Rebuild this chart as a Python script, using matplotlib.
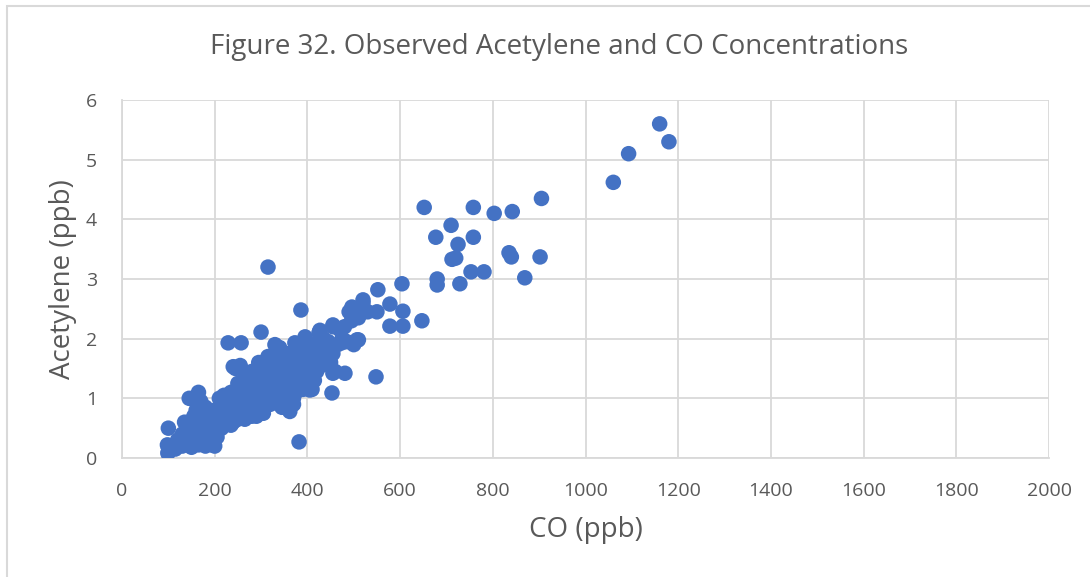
import matplotlib.pyplot as plt
from matplotlib.patches import Rectangle

# CO (ppb) vs acetylene (ppb)
co_low = [100, 100, 115, 130, 140, 150, 165, 180, 195, 200, 130, 135, 150, 160,
          170, 175, 185, 190, 200, 210, 215, 145, 165, 170, 180, 160, 100, 205,
          220, 225, 200, 210, 215, 225, 220, 120, 155, 185, 195, 235, 175, 190,
          205, 165, 180, 210, 150, 195]
ac_low = [0.10, 0.18, 0.15, 0.20, 0.25, 0.18, 0.22, 0.20, 0.22, 0.20, 0.40, 0.60,
          0.50, 0.45, 0.60, 0.35, 0.50, 0.70, 0.55, 0.75, 0.50, 1.00, 1.10, 0.95,
          0.85, 0.80, 0.50, 0.35, 0.60, 0.80, 0.80, 1.00, 0.65, 0.90, 1.05, 0.30,
          0.70, 0.65, 0.40, 0.55, 0.25, 0.30, 0.45, 0.35, 0.45, 0.60, 0.35, 0.60]

co_mid = [230, 230, 235, 240, 240, 245, 250, 250, 255, 255, 260, 262, 265, 270,
          270, 275, 280, 280, 285, 290, 290, 295, 295, 300, 300, 305, 305, 310,
          310, 315, 315, 320, 320, 325, 325, 330, 330, 335, 335, 340, 340, 345,
          345, 350, 350, 355, 355, 360, 360, 365, 365, 370, 370, 375, 375, 380,
          380, 385, 390, 390, 395, 395, 400, 400, 405, 410, 410, 415, 420, 425,
          425, 430, 435, 440, 445, 450, 455, 460, 465, 470, 475, 480, 485, 490,
          495, 500, 505, 510, 510, 520, 530, 250, 265, 285, 300, 270, 310, 340,
          320, 350, 290, 330, 360, 380, 345, 370, 260, 280, 240, 245, 275, 295,
          315, 335, 355, 375, 395, 415, 435, 455, 265, 305, 325, 345, 365, 385,
          405, 425, 445, 285, 300, 320, 340, 360, 380, 400, 420]
ac_mid = [0.70, 0.95, 1.10, 0.60, 0.85, 1.50, 1.00, 1.25, 0.75, 1.55, 0.90, 1.15,
          0.65, 1.05, 1.30, 0.80, 1.45, 0.95, 1.20, 0.70, 1.05, 1.35, 1.60, 0.85,
          1.15, 1.45, 0.75, 1.00, 1.30, 1.55, 1.70, 0.90, 1.20, 1.40, 1.05, 1.75,
          0.95, 1.25, 1.50, 1.10, 1.85, 1.35, 0.95, 1.60, 1.20, 1.45, 1.05, 1.30,
          1.75, 1.15, 1.55, 1.40, 1.00, 1.65, 1.25, 1.50, 1.85, 1.30, 1.15, 1.60,
          1.45, 2.00, 1.25, 1.75, 1.55, 1.90, 1.15, 1.65, 1.45, 2.10, 1.80, 1.55,
          2.00, 1.70, 1.95, 1.60, 2.20, 1.45, 1.90, 2.15, 2.00, 2.20, 1.95, 2.45,
          2.30, 1.90, 2.40, 2.35, 1.98, 2.60, 2.45, 0.65, 0.85, 0.80, 0.95, 1.20,
          1.10, 1.30, 1.35, 1.40, 1.25, 1.55, 1.20, 1.35, 0.85, 0.90, 1.00, 0.70,
          0.75, 1.05, 1.15, 0.90, 1.10, 1.00, 1.40, 1.10, 1.35, 1.30, 1.85, 1.75,
          1.35, 1.25, 1.60, 1.65, 1.25, 1.40, 1.40, 1.95, 1.85, 1.00, 1.50, 1.10,
          1.00, 1.00, 1.70, 1.60, 1.70]

co_out = [1160, 1180, 1093, 1060, 905, 842, 803, 758, 652, 710, 758, 677, 725,
          720, 712, 835, 840, 902, 753, 781, 729, 869, 680, 680, 315, 604, 552,
          647, 606, 606, 578, 578, 550, 496, 520, 386, 300, 229, 257, 548, 453,
          382, 481, 455, 507, 474, 449, 362, 405, 427, 395, 373, 455, 240, 330,
          98, 99]
ac_out = [5.60, 5.30, 5.10, 4.62, 4.35, 4.13, 4.10, 4.20, 4.20, 3.90, 3.70, 3.70,
          3.58, 3.35, 3.33, 3.44, 3.37, 3.37, 3.12, 3.12, 2.92, 3.02, 3.00, 2.90,
          3.20, 2.92, 2.82, 2.30, 2.46, 2.21, 2.21, 2.58, 2.45, 2.53, 2.65, 2.48,
          2.11, 1.93, 1.93, 1.36, 1.09, 0.27, 1.42, 1.42, 1.98, 1.93, 1.60, 0.78,
          1.14, 2.14, 2.03, 1.93, 2.23, 1.53, 1.90, 0.22, 0.08]

co = co_low + co_mid + co_out
acetylene = ac_low + ac_mid + ac_out

gray_text = '#595959'
grid_col = '#D9D9D9'
plt.rcParams['font.family'] = ['Open Sans', 'DejaVu Sans']

fig = plt.figure(figsize=(10.9, 5.77), dpi=100)
ax = fig.add_axes([122 / 1090, 1 - 458 / 577, 927 / 1090, 358 / 577])

ax.scatter(co, acetylene, s=125, color='#4472C4', edgecolors='none', zorder=3)

ax.set_xlim(0, 2000)
ax.set_ylim(0, 6)
ax.set_xticks(range(0, 2001, 200))
ax.set_yticks(range(0, 7))
ax.grid(True, color=grid_col, linewidth=1.3, zorder=0)
ax.set_axisbelow(True)
for side in ['top', 'right']:
    ax.spines[side].set_visible(False)
for side in ['left', 'bottom']:
    ax.spines[side].set_color(grid_col)
    ax.spines[side].set_linewidth(1.3)
ax.tick_params(length=0, labelsize=14, colors=gray_text)
ax.tick_params(axis='x', pad=17)
ax.tick_params(axis='y', pad=18)

ax.set_xlabel('CO (ppb)', fontsize=20, color=gray_text, labelpad=12)
ax.set_ylabel('Acetylene (ppb)', fontsize=20, color=gray_text, labelpad=6)
fig.text(0.513, 1 - 47 / 577, 'Figure 32. Observed Acetylene and CO Concentrations',
         fontsize=20, color=gray_text, ha='center', va='center')

# chart frame as in the original spreadsheet export
fig.patches.append(Rectangle((6.5 / 1090, -0.1), 1.2, 1.1 - 6.5 / 577,
                             transform=fig.transFigure, fill=False,
                             edgecolor=grid_col, linewidth=1.5))

fig.savefig('out.png', dpi=100)
